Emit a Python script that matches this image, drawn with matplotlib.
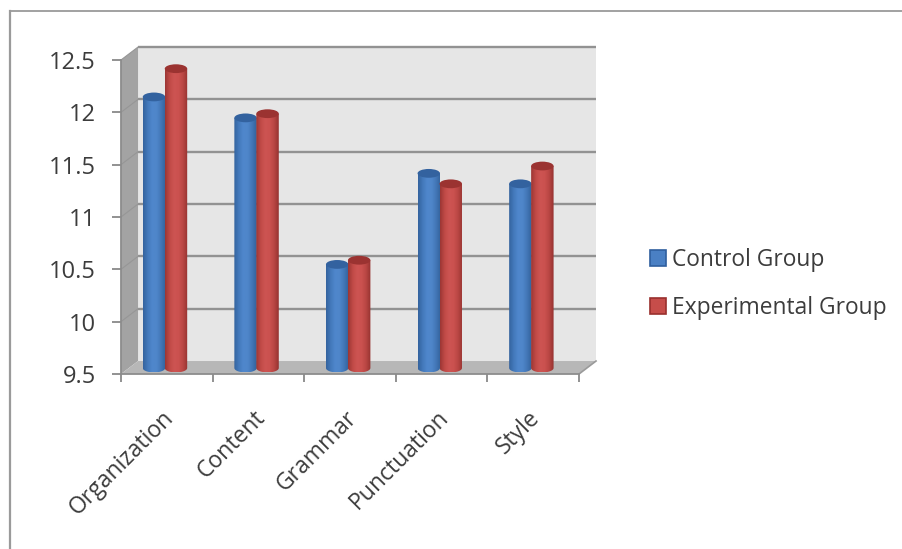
import numpy as np
import matplotlib
matplotlib.use("Agg")
import matplotlib.pyplot as plt
from matplotlib.colors import LinearSegmentedColormap
from matplotlib.lines import Line2D
from matplotlib.patches import Ellipse, PathPatch, Patch, Polygon
from matplotlib.path import Path

categories = ["Organization", "Content", "Grammar", "Punctuation", "Style"]
control_group = [12.09, 11.89, 10.49, 11.36, 11.26]
experimental_group = [12.36, 11.93, 10.53, 11.26, 11.43]
y_ticks = [9.5, 10, 10.5, 11, 11.5, 12, 12.5]
y_tick_labels = ["9.5", "10", "10.5", "11", "11.5", "12", "12.5"]

TEXT = "#3c3c3c"
plt.rcParams["font.family"] = ["Open Sans", "DejaVu Sans"]

W, H = 903, 549
fig = plt.figure(figsize=(W / 100, H / 100), dpi=100, facecolor="white")
ax = fig.add_axes([121 / W, 1 - 374 / H, 458 / W, 314 / H])
ax.set_xlim(0, 5)
ax.set_ylim(9.5, 12.5)
ax.set_autoscale_on(False)
ax.patch.set_visible(False)

# Pseudo-3D box: depth offsets expressed in axis units
DX, DY = 0.186, 0.124
Y0, Y1 = 9.5, 12.5


def face(points, color, z):
    ax.add_patch(Polygon(points, closed=True, facecolor=color, edgecolor="none",
                         clip_on=False, zorder=z))


face([(DX, Y0 + DY), (5 + DX, Y0 + DY), (5 + DX, Y1 + DY), (DX, Y1 + DY)], "#e6e6e6", 1)
face([(0, Y0), (DX, Y0 + DY), (DX, Y1 + DY), (0, Y1)], "#a3a3a3", 1)
face([(0, Y0), (5, Y0), (5 + DX, Y0 + DY), (DX, Y0 + DY)], "#b7b7b7", 1)

for t in y_ticks[1:]:
    ax.plot([DX, 5 + DX], [t + DY, t + DY], color="#929292", lw=1.7, clip_on=False,
            zorder=2, solid_capstyle="butt")
    ax.plot([0, DX], [t, t + DY], color="#969696", lw=0.8, clip_on=False, zorder=2)
ax.plot([5, 5 + DX], [Y0, Y0 + DY], color="#9a9a9a", lw=1.2, clip_on=False, zorder=2)

# Cylinder bars
BAR_W = 0.245
GROUP_X = 0.48
OFFSET = 0.12
BASE_SHIFT = 0.057
CAP = 0.042

blue_cmap = LinearSegmentedColormap.from_list(
    "blue_cyl", ["#34639e", "#4379bb", "#4f87cc", "#4f86ca", "#4276b6", "#33619b"])
red_cmap = LinearSegmentedColormap.from_list(
    "red_cyl", ["#9c3634", "#c04a47", "#cd5452", "#cb514f", "#b84643", "#953230"])


def cylinder(xc, value, cmap, top_color, z):
    left, right = xc - BAR_W / 2, xc + BAR_W / 2
    base, top = Y0 + BASE_SHIFT, value + BASE_SHIFT
    theta = np.linspace(np.pi, 2 * np.pi, 24)
    xs = xc + BAR_W / 2 * np.cos(theta)
    ys = base + CAP * np.sin(theta)
    verts = list(zip(xs, ys)) + [(right, top), (left, top), (left, base)]
    outline = PathPatch(Path(verts, closed=False), transform=ax.transData,
                        facecolor="none", edgecolor="none", clip_on=False)
    ax.add_patch(outline)
    im = ax.imshow(np.linspace(0, 1, 64)[None, :], cmap=cmap, aspect="auto",
                   extent=(left, right, base - CAP, top), zorder=z, interpolation="bilinear")
    im.set_clip_path(outline)
    ax.add_patch(Ellipse((xc, top), BAR_W, 2 * CAP, facecolor=top_color, edgecolor="none",
                         clip_on=False, zorder=z + 0.1))


for i in range(len(categories)):
    cylinder(i + GROUP_X - OFFSET, control_group[i], blue_cmap, "#33629f", 3 + i * 0.01)
    cylinder(i + GROUP_X + OFFSET, experimental_group[i], red_cmap, "#9b3331", 3.5 + i * 0.01)

ax.set_xlim(0, 5)
ax.set_ylim(Y0, Y1)

# Axes, ticks and labels
for side in ("top", "right"):
    ax.spines[side].set_visible(False)
for side in ("left", "bottom"):
    ax.spines[side].set_color("#8c8c8c")
    ax.spines[side].set_linewidth(1.3)
    ax.spines[side].set_zorder(2.5)

ax.set_yticks(y_ticks, y_tick_labels)
ax.set_xticks(np.arange(6))
ax.set_xticklabels([])
ax.set_xticks(np.arange(5) + 0.445, categories, minor=True)
ax.tick_params(axis="y", length=6.5, width=1.2, color="#7f7f7f", labelsize=17,
               labelcolor=TEXT, pad=11.5)
ax.tick_params(axis="x", which="major", length=5.5, width=1.2, color="#7f7f7f")
ax.tick_params(axis="x", which="minor", length=0, labelsize=16.5, labelcolor=TEXT, pad=23)
for label in ax.get_xticklabels(minor=True):
    label.set_rotation(45)
    label.set_ha("right")
    label.set_rotation_mode("anchor")

handles = [Patch(facecolor="#4a80c4", edgecolor="#2f5f9e", lw=1.2, label="Control Group"),
           Patch(facecolor="#c64d4a", edgecolor="#99302e", lw=1.2, label="Experimental Group")]
ax.legend(handles=handles, loc="center left", bbox_to_anchor=(650 / W, 1 - 284 / H),
          bbox_transform=fig.transFigure, frameon=False, fontsize=16.4, labelcolor=TEXT,
          handlelength=0.72, handleheight=0.72, handletextpad=0.24, labelspacing=1.06,
          borderpad=0, borderaxespad=0)

# Thin frame around the chart area
fig.add_artist(Line2D([10 / W, 10 / W], [0, 1 - 11 / H], color="#9a9a9a", lw=1.6))
fig.add_artist(Line2D([10 / W, 1], [1 - 11 / H, 1 - 11 / H], color="#9a9a9a", lw=1.3))

fig.savefig("out.png", dpi=100)
